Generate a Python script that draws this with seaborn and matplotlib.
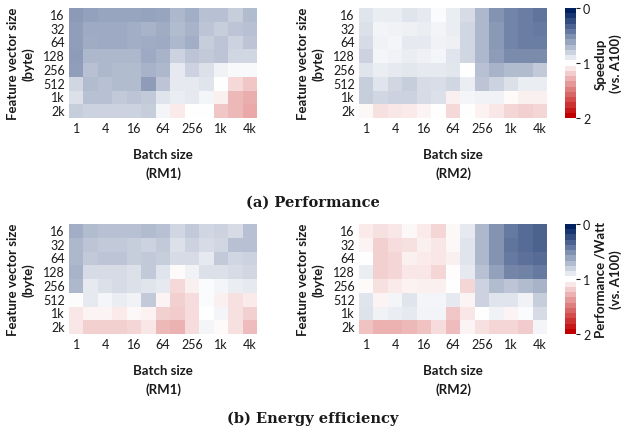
import numpy as np
import pandas as pd
import seaborn as sns
import matplotlib.pyplot as plt
from matplotlib.colors import ListedColormap, Normalize
from matplotlib.cm import ScalarMappable

sns.set_theme(style="white")
plt.rcParams["font.family"] = ["Lato", "DejaVu Sans"]

batch_sizes = ["1", "2", "4", "8", "16", "32", "64", "128", "256", "512", "1k", "2k", "4k"]
feature_sizes = ["16", "32", "64", "128", "256", "512", "1k", "2k"]

# Speedup vs. A100, rows = feature vector size, cols = batch size
perf_rm1 = [
    [0.55, 0.58, 0.60, 0.60, 0.60, 0.59, 0.60, 0.68, 0.64, 0.72, 0.72, 0.78, 0.70],
    [0.57, 0.62, 0.62, 0.62, 0.64, 0.66, 0.63, 0.70, 0.66, 0.74, 0.78, 0.74, 0.72],
    [0.57, 0.63, 0.62, 0.62, 0.64, 0.63, 0.62, 0.68, 0.64, 0.78, 0.74, 0.80, 0.74],
    [0.56, 0.68, 0.68, 0.68, 0.68, 0.62, 0.66, 0.80, 0.74, 0.76, 0.74, 0.82, 0.82],
    [0.57, 0.72, 0.68, 0.70, 0.70, 0.66, 0.68, 0.90, 0.80, 0.86, 0.94, 0.97, 0.97],
    [0.82, 0.70, 0.72, 0.70, 0.70, 0.56, 0.74, 0.90, 0.90, 0.88, 1.00, 1.15, 1.22],
    [0.86, 0.72, 0.72, 0.76, 0.74, 0.76, 0.88, 0.92, 0.90, 0.96, 1.06, 1.28, 1.32],
    [0.78, 0.80, 0.80, 0.80, 0.80, 0.78, 0.96, 1.08, 1.00, 1.00, 1.22, 1.28, 1.34],
]
perf_rm2 = [
    [0.88, 0.92, 0.92, 0.88, 0.90, 0.98, 0.92, 0.84, 0.68, 0.52, 0.45, 0.42, 0.38],
    [0.86, 0.95, 0.94, 0.93, 0.92, 0.95, 0.92, 0.82, 0.68, 0.54, 0.45, 0.42, 0.40],
    [0.84, 0.94, 0.96, 0.90, 0.90, 0.94, 0.93, 0.82, 0.68, 0.54, 0.45, 0.42, 0.42],
    [0.80, 0.96, 0.94, 0.92, 0.93, 0.96, 0.88, 0.82, 0.68, 0.56, 0.48, 0.48, 0.48],
    [0.88, 0.92, 0.90, 0.89, 0.90, 0.90, 0.89, 1.00, 0.72, 0.66, 0.70, 0.70, 0.76],
    [0.78, 0.88, 0.82, 0.78, 0.84, 0.85, 0.82, 0.92, 0.74, 0.80, 0.86, 0.92, 0.92],
    [0.78, 0.82, 0.80, 0.80, 0.84, 0.86, 1.06, 0.96, 0.94, 0.94, 1.02, 1.06, 1.06],
    [1.03, 1.12, 1.10, 1.08, 1.04, 1.00, 1.15, 1.00, 1.05, 1.10, 1.16, 1.18, 1.16],
]
# Performance per watt vs. A100
energy_rm1 = [
    [0.64, 0.70, 0.72, 0.72, 0.72, 0.70, 0.72, 0.82, 0.76, 0.82, 0.80, 0.84, 0.72],
    [0.68, 0.74, 0.76, 0.76, 0.78, 0.80, 0.76, 0.86, 0.80, 0.84, 0.82, 0.72, 0.72],
    [0.68, 0.76, 0.74, 0.74, 0.78, 0.76, 0.78, 0.84, 0.84, 0.90, 0.76, 0.82, 0.80],
    [0.66, 0.84, 0.84, 0.84, 0.86, 0.76, 0.88, 1.02, 0.94, 0.86, 0.86, 0.84, 0.82],
    [0.68, 0.90, 0.86, 0.84, 0.86, 0.88, 0.90, 1.15, 1.06, 0.98, 0.96, 0.92, 0.90],
    [0.99, 0.90, 0.96, 0.92, 0.94, 0.76, 1.04, 1.18, 1.14, 0.98, 1.06, 1.12, 1.08],
    [1.10, 1.04, 1.04, 1.08, 1.03, 1.05, 1.18, 1.20, 1.14, 1.00, 0.96, 1.12, 1.18],
    [1.10, 1.18, 1.18, 1.18, 1.16, 1.10, 1.28, 1.30, 1.14, 0.96, 1.02, 1.12, 1.26],
]
energy_rm2 = [
    [1.08, 1.12, 1.10, 1.03, 1.08, 1.16, 1.03, 0.90, 0.68, 0.52, 0.40, 0.34, 0.30],
    [1.04, 1.18, 1.14, 1.12, 1.06, 1.10, 1.03, 0.88, 0.68, 0.52, 0.38, 0.34, 0.30],
    [1.00, 1.18, 1.16, 1.06, 1.08, 1.10, 1.06, 0.88, 0.68, 0.52, 0.40, 0.36, 0.34],
    [0.92, 1.18, 1.16, 1.10, 1.10, 1.16, 1.01, 0.90, 0.72, 0.58, 0.46, 0.44, 0.40],
    [1.02, 1.12, 1.08, 1.05, 1.06, 1.06, 1.00, 1.16, 0.80, 0.70, 0.74, 0.70, 0.66],
    [0.88, 1.04, 0.96, 0.88, 0.96, 0.96, 0.90, 1.04, 0.80, 0.88, 0.88, 0.94, 0.78],
    [0.87, 0.94, 0.92, 0.90, 0.95, 0.95, 1.22, 1.10, 1.00, 0.94, 1.04, 0.98, 0.84],
    [1.24, 1.30, 1.30, 1.28, 1.24, 1.14, 1.26, 1.04, 1.12, 1.16, 1.16, 1.20, 0.96],
]

anchors = ["#002060", "#ffffff", "#C00000"]
cell_cmap = sns.blend_palette(anchors, as_cmap=True)
bar_cmap = ListedColormap(sns.blend_palette(anchors, n_colors=21))
norm = Normalize(vmin=0, vmax=2)

W, H = 624, 431
fig = plt.figure(figsize=(W / 100, H / 100), dpi=100)


def px_axes(x0, y0, x1, y1):
    return fig.add_axes([x0 / W, 1 - y1 / H, (x1 - x0) / W, (y1 - y0) / H])


text_color = "#1a1a1a"


def draw_heat(ax, values, model):
    df = pd.DataFrame(values, index=feature_sizes, columns=batch_sizes)
    sns.heatmap(df, ax=ax, cmap=cell_cmap, vmin=0, vmax=2, cbar=False,
                xticklabels=2, yticklabels=1)
    ax.tick_params(length=0, pad=3, labelsize=9, colors=text_color)
    ax.set_yticklabels(ax.get_yticklabels(), rotation=0)
    ax.set_xticklabels(ax.get_xticklabels(), rotation=0)
    ax.set_xlabel(f"Batch size\n({model})", fontsize=9.5, fontweight="bold",
                  labelpad=10, linespacing=1.55, color=text_color)
    ax.set_ylabel("Feature vector size\n(byte)", fontsize=9.5, fontweight="bold",
                  labelpad=6, linespacing=1.3, color=text_color)


def draw_cbar(cax, label):
    cb = fig.colorbar(ScalarMappable(norm=norm, cmap=bar_cmap), cax=cax)
    cax.invert_yaxis()
    cb.set_ticks([0, 1, 2])
    cb.outline.set_visible(False)
    cax.tick_params(length=3, width=0.8, pad=2, labelsize=9, colors=text_color)
    cb.set_label(label, fontsize=9.5, fontweight="bold", linespacing=1.3,
                 color=text_color, labelpad=3)


rows = [
    ((9, 119), perf_rm1, perf_rm2, "Speedup\n(vs. A100)", "(a) Performance", 203),
    ((225, 335), energy_rm1, energy_rm2, "Performance /Watt\n(vs. A100)",
     "(b) Energy efficiency", 419),
]
for (y0, y1), left_vals, right_vals, cb_label, caption, cap_y in rows:
    draw_heat(px_axes(69, y0, 257, y1), left_vals, "RM1")
    draw_heat(px_axes(359, y0, 547, y1), right_vals, "RM2")
    draw_cbar(px_axes(565, y0, 576, y1), cb_label)
    fig.text(313 / W, 1 - cap_y / H, caption, ha="center", va="center",
             fontsize=10.5, fontweight="bold", family="DejaVu Serif",
             color=text_color)

fig.savefig("out.png", dpi=100)
